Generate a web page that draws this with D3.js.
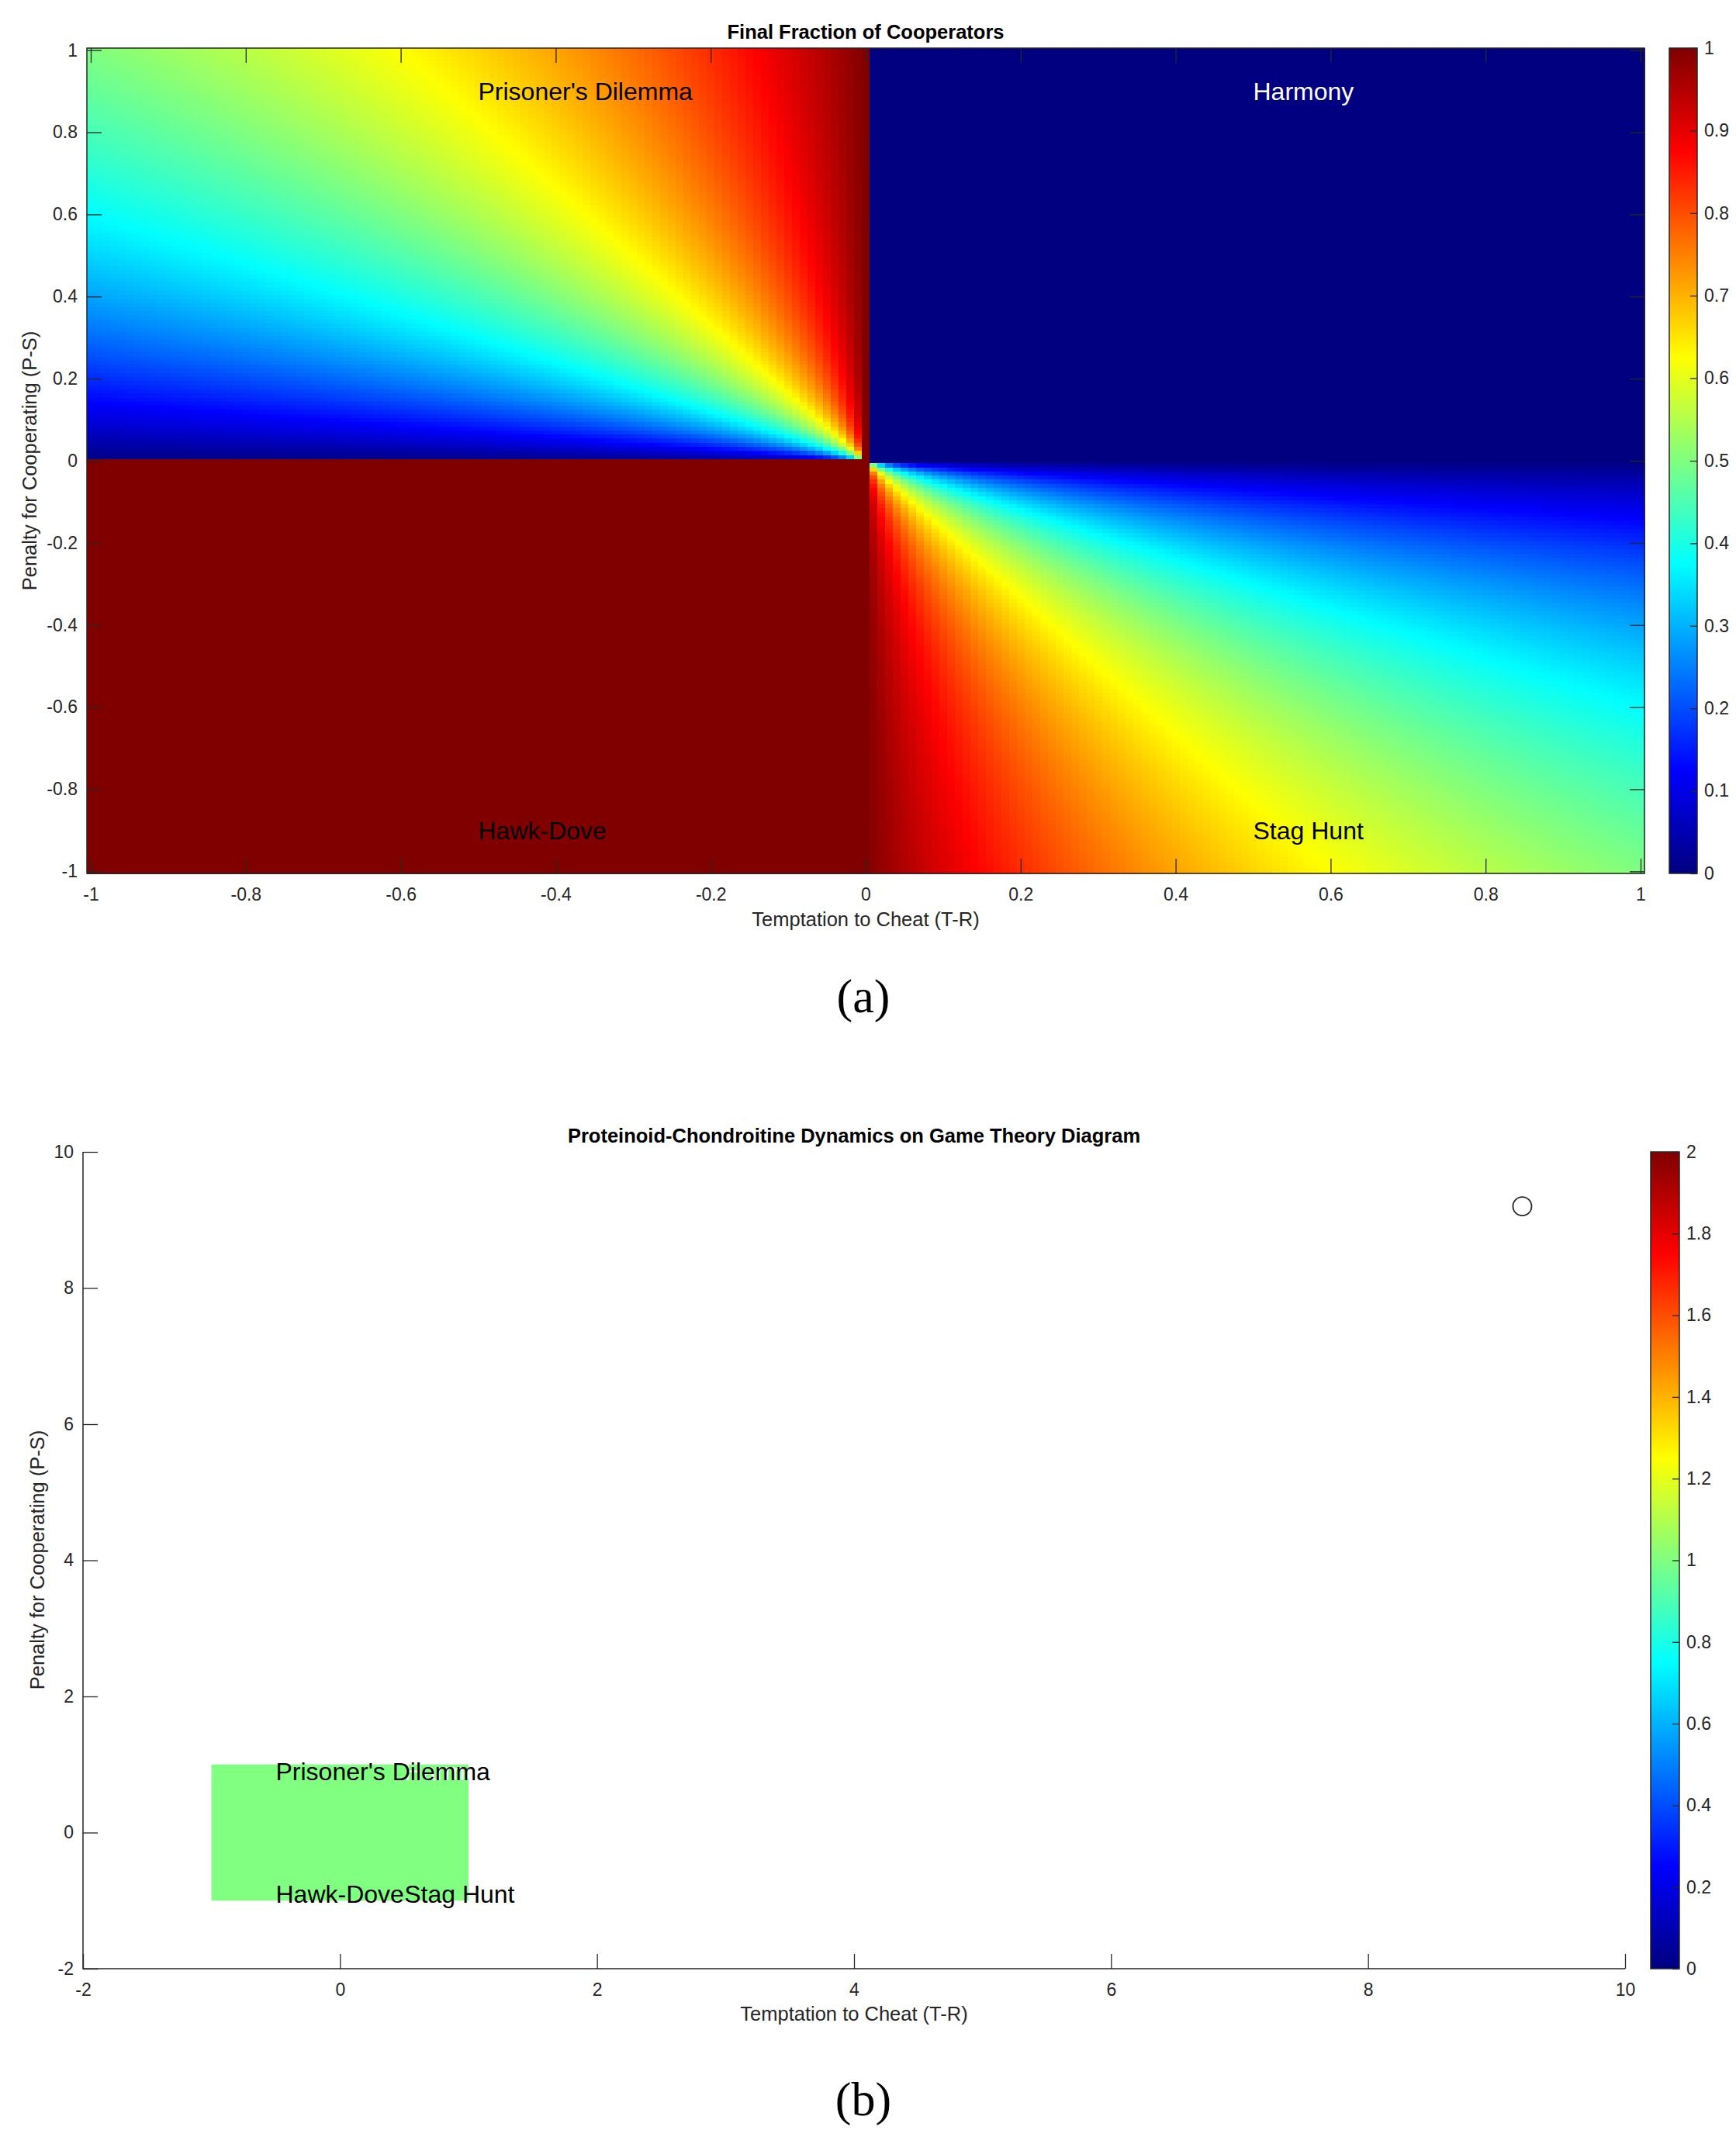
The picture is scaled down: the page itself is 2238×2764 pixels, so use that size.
<!DOCTYPE html>
<html>
<head>
<meta charset="utf-8">
<script src="https://cdn.jsdelivr.net/npm/d3@7"></script>
<style>
  body { margin: 0; background: #fff; }
  svg { font-family: "Liberation Sans", Arial, Helvetica, sans-serif; }
  .tick text { fill: #262626; font-size: 23px; }
  .tick line { stroke: #262626; stroke-width: 1.3; }
  .domain { display: none; }
</style>
</head>
<body>
<div id="chart"></div>
<script>
// grid of game parameters (step 0.01)
const temptation = d3.range(-100, 101).map(i => i / 100);   // T-R
const penalty = d3.range(-100, 101).map(i => i / 100);      // P-S

// tick values
const ticksA = [-1, -0.8, -0.6, -0.4, -0.2, 0, 0.2, 0.4, 0.6, 0.8, 1];
const colorTicksA = [0, 0.1, 0.2, 0.3, 0.4, 0.5, 0.6, 0.7, 0.8, 0.9, 1];
const ticksB = [-2, 0, 2, 4, 6, 8, 10];
const colorTicksB = [0, 0.2, 0.4, 0.6, 0.8, 1, 1.2, 1.4, 1.6, 1.8, 2];

// region labels
const regionNames = ["Prisoner's Dilemma", "Harmony", "Hawk-Dove", "Stag Hunt"];
const regionT = [-0.5, 0.5, -0.5, 0.5];
const regionP = [0.9, 0.9, -0.9, -0.9];
const regionColor = ["#000", "#fff", "#000", "#000"];

// panel (b) data
const boxT = [-1, 1];
const boxP = [-1, 1];
const boxValue = 1;
const pointT = [9.2];
const pointP = [9.2];

// stable end state of the replicator dynamics for each (T-R, P-S) cell
function finalFraction(t, p) {
  if (t <= 0 && p <= 0) return 1;
  if (t > 0 && p >= 0) return 0;
  return p / (p - t);
}

// MATLAB jet
function jet(v) {
  const c = x => Math.round(255 * Math.max(0, Math.min(1, x)));
  return d3.rgb(c(1.5 - Math.abs(4 * v - 3)), c(1.5 - Math.abs(4 * v - 2)), c(1.5 - Math.abs(4 * v - 1))).toString();
}

const width = 2238, height = 2764;
const svg = d3.select('#chart').append('svg')
  .attr('width', width)
  .attr('height', height);

const axisColor = '#262626';
const fmt = d => String(+d.toFixed(1));

function colorbar(g, id, x0, x1, y0, y1, domain, ticks) {
  const cs = d3.scaleSequential(v => jet(v)).domain(domain);
  const grad = svg.append('defs').append('linearGradient')
    .attr('id', id).attr('x1', 0).attr('y1', 1).attr('x2', 0).attr('y2', 0);
  d3.range(0, 1.0001, 1 / 64).forEach(f => {
    grad.append('stop').attr('offset', f).attr('stop-color', jet(f));
  });
  g.append('rect').attr('x', x0).attr('y', y0).attr('width', x1 - x0).attr('height', y1 - y0)
    .attr('fill', `url(#${id})`).attr('stroke', axisColor).attr('stroke-width', 1.5);
  const s = d3.scaleLinear().domain(domain).range([y1, y0]);
  g.append('g').attr('transform', `translate(${x1},0)`)
    .call(d3.axisRight(s).tickValues(ticks).tickFormat(fmt).tickSizeInner(-9).tickSizeOuter(0).tickPadding(9));
}

// ---------------- panel (a) ----------------
const xA = d3.scaleLinear().domain([-1.005, 1.005]).range([112, 2120]);
const yA = d3.scaleLinear().domain([-1.005, 1.005]).range([1126, 62]);
const colorA = d3.scaleSequential(v => jet(v)).domain([0, 1]);

const cells = [];
penalty.forEach(p => temptation.forEach(t => cells.push({ t, p, v: finalFraction(t, p) })));

const gA = svg.append('g');
gA.append('g').attr('shape-rendering', 'crispEdges')
  .selectAll('rect').data(cells).enter().append('rect')
  .attr('x', d => xA(d.t - 0.005))
  .attr('y', d => yA(d.p + 0.005))
  .attr('width', d => xA(d.t + 0.005) - xA(d.t - 0.005) + 0.6)
  .attr('height', d => yA(d.p - 0.005) - yA(d.p + 0.005) + 0.6)
  .attr('fill', d => colorA(d.v));

gA.selectAll('.region').data(regionNames).enter().append('text')
  .attr('x', (d, i) => xA(regionT[i]))
  .attr('y', (d, i) => yA(regionP[i]))
  .attr('dy', '0.35em')
  .attr('font-size', 32)
  .attr('fill', (d, i) => regionColor[i])
  .text(d => d);

gA.append('g').attr('transform', 'translate(0,1126)')
  .call(d3.axisBottom(xA).tickValues(ticksA).tickFormat(fmt).tickSizeInner(-19).tickSizeOuter(0).tickPadding(19));
gA.append('g').attr('transform', 'translate(0,62)')
  .call(d3.axisTop(xA).tickValues(ticksA).tickFormat('').tickSizeInner(-19).tickSizeOuter(0));
gA.append('g').attr('transform', 'translate(112,0)')
  .call(d3.axisLeft(yA).tickValues(ticksA).tickFormat(fmt).tickSizeInner(-19).tickSizeOuter(0).tickPadding(12));
gA.append('g').attr('transform', 'translate(2120,0)')
  .call(d3.axisRight(yA).tickValues(ticksA).tickFormat('').tickSizeInner(-19).tickSizeOuter(0));
gA.append('rect').attr('x', 112).attr('y', 62).attr('width', 2008).attr('height', 1064)
  .attr('fill', 'none').attr('stroke', axisColor).attr('stroke-width', 1.5);

gA.append('text').attr('x', 1116).attr('y', 50).attr('text-anchor', 'middle')
  .attr('font-size', 25.5).attr('font-weight', 'bold').attr('fill', '#000')
  .text('Final Fraction of Cooperators');
gA.append('text').attr('x', 1116).attr('y', 1194).attr('text-anchor', 'middle')
  .attr('font-size', 25.5).attr('fill', axisColor).text('Temptation to Cheat (T-R)');
gA.append('text').attr('transform', 'translate(47,594) rotate(-90)').attr('text-anchor', 'middle')
  .attr('font-size', 25.5).attr('fill', axisColor).text('Penalty for Cooperating (P-S)');

colorbar(gA, 'jetA', 2152, 2188, 62, 1126, [0, 1], colorTicksA);

svg.append('text').attr('x', 1113).attr('y', 1305).attr('text-anchor', 'middle')
  .attr('font-family', '"Liberation Serif", "Times New Roman", serif').attr('font-size', 62)
  .text('(a)');

// ---------------- panel (b) ----------------
const xB = d3.scaleLinear().domain([-2, 10]).range([107, 2095]);
const yB = d3.scaleLinear().domain([-2, 10]).range([2538, 1485]);
const colorB = d3.scaleSequential(v => jet(v)).domain([0, 2]);

const gB = svg.append('g');
gB.append('rect')
  .attr('x', xB(boxT[0])).attr('y', yB(boxP[1]))
  .attr('width', xB(boxT[1]) - xB(boxT[0])).attr('height', yB(boxP[0]) - yB(boxP[1]))
  .attr('fill', colorB(boxValue));

// Harmony (white) sits under the other labels
const orderB = [1, 0, 2, 3];
gB.selectAll('.region').data(orderB).enter().append('text')
  .attr('x', i => xB(regionT[i]))
  .attr('y', i => yB(regionP[i]))
  .attr('dy', '0.35em')
  .attr('font-size', 32)
  .attr('fill', i => regionColor[i])
  .text(i => regionNames[i]);

gB.selectAll('circle').data(pointT).enter().append('circle')
  .attr('cx', (d, i) => xB(pointT[i]))
  .attr('cy', (d, i) => yB(pointP[i]))
  .attr('r', 12)
  .attr('fill', 'none').attr('stroke', axisColor).attr('stroke-width', 1.8);

gB.append('g').attr('transform', 'translate(0,2538)')
  .call(d3.axisBottom(xB).tickValues(ticksB).tickFormat(fmt).tickSizeInner(-19).tickSizeOuter(0).tickPadding(19));
gB.append('g').attr('transform', 'translate(107,0)')
  .call(d3.axisLeft(yB).tickValues(ticksB).tickFormat(fmt).tickSizeInner(-19).tickSizeOuter(0).tickPadding(12));
gB.append('path')
  .attr('d', `M107,1485V2538H2095`)
  .attr('fill', 'none').attr('stroke', axisColor).attr('stroke-width', 1.5);

gB.append('text').attr('x', 1101).attr('y', 1473).attr('text-anchor', 'middle')
  .attr('font-size', 25.5).attr('font-weight', 'bold').attr('fill', '#000')
  .text('Proteinoid-Chondroitine Dynamics on Game Theory Diagram');
gB.append('text').attr('x', 1101).attr('y', 2605).attr('text-anchor', 'middle')
  .attr('font-size', 25.5).attr('fill', axisColor).text('Temptation to Cheat (T-R)');
gB.append('text').attr('transform', 'translate(57,2011) rotate(-90)').attr('text-anchor', 'middle')
  .attr('font-size', 25.5).attr('fill', axisColor).text('Penalty for Cooperating (P-S)');

colorbar(gB, 'jetB', 2128, 2165, 1485, 2538, [0, 2], colorTicksB);

svg.append('text').attr('x', 1113).attr('y', 2727).attr('text-anchor', 'middle')
  .attr('font-family', '"Liberation Serif", "Times New Roman", serif').attr('font-size', 62)
  .text('(b)');
</script>
</body>
</html>
